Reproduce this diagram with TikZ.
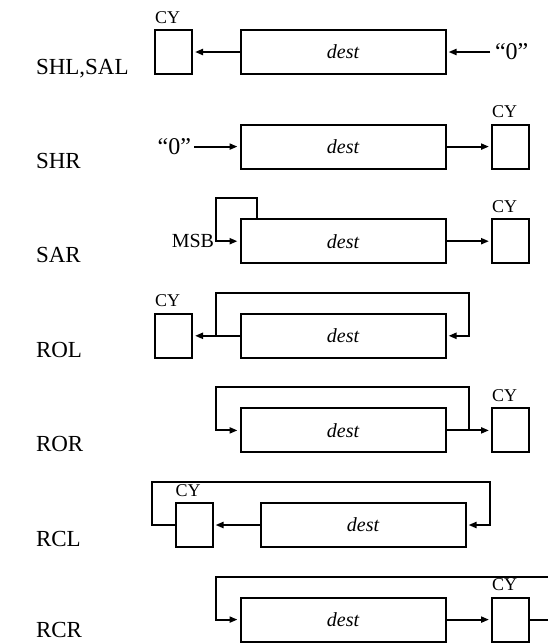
\documentclass[tikz,border=0pt]{standalone}
\usepackage{fontspec}
\setmainfont{Liberation Serif}
\usetikzlibrary{arrows.meta}
\begin{document}
\begin{tikzpicture}[x=1pt,y=-1pt,
  line width=2pt,
  reg/.style={draw, minimum width=205pt, minimum height=44pt, inner sep=0pt, outer sep=0pt,
    font=\fontsize{20}{20}\selectfont\itshape},
  cybox/.style={draw, minimum width=37pt, minimum height=44pt, inner sep=0pt, outer sep=0pt},
  cylabel/.style={anchor=base west, inner sep=0pt, font=\fontsize{18}{18}\selectfont},
  oplabel/.style={anchor=base west, inner sep=0pt, font=\fontsize{23}{23}\selectfont},
  zero/.style={inner sep=0pt, font=\fontsize{24}{24}\selectfont},
  flow/.style={-{Triangle[length=8pt,width=6pt]}, shorten >=3pt},
]
\clip (0,0) rectangle (548,643);

% ---- SHL, SAL
\node[oplabel] (l1) at (35,74) {SHL,SAL};
\node[cybox] (c1) at (173.5,52) {};
\node[cylabel] (t1) at ([xshift=-1pt,yshift=7pt]c1.north west) {CY};
\node[reg] (d1) at (343,52) {dest};
\node[zero, anchor=west] (q1) at (494,52) {“0”};
\draw[flow] (d1.west) -- (c1.east);
\draw[flow] ([xshift=-4pt]q1.west) -- (d1.east);

% ---- SHR
\node[oplabel] (l2) at (35,168) {SHR};
\node[zero, anchor=east] (q2) at (192,146.6) {“0”};
\node[reg] (d2) at (343,146.6) {dest};
\node[cybox] (c2) at (510.5,146.6) {};
\node[cylabel] (t2) at ([xshift=-1pt,yshift=7pt]c2.north west) {CY};
\draw[flow] ([xshift=2pt]q2.east) -- (d2.west);
\draw[flow] (d2.east) -- (c2.west);

% ---- SAR
\node[oplabel] (l3) at (35,262) {SAR};
\node[reg] (d3) at (343,241.2) {dest};
\node[cybox] (c3) at (510.5,241.2) {};
\node[cylabel] (t3) at ([xshift=-1pt,yshift=7pt]c3.north west) {CY};
\coordinate (k3) at (257,198);
\coordinate (j3) at (216,198);
\node[anchor=base east, inner sep=0pt, font=\fontsize{20}{20}\selectfont] (msb) at (215,247) {MSB};
\draw[flow] (d3.north -| k3) -- (k3) -- (j3) -- (j3 |- d3.west) -- (d3.west);
\draw[flow] (d3.east) -- (c3.west);

% ---- ROL
\node[oplabel] (l4) at (35,357) {ROL};
\node[cybox] (c4) at (173.5,335.8) {};
\node[cylabel] (t4) at ([xshift=-1pt,yshift=7pt]c4.north west) {CY};
\node[reg] (d4) at (343,335.8) {dest};
\coordinate (j4) at (216,292.5);
\coordinate (k4) at (469,292.5);
\draw[flow] (d4.west) -- (c4.east);
\draw[flow] (j4 |- d4.west) -- (j4) -- (k4) -- (k4 |- d4.east) -- (d4.east);

% ---- ROR
\node[oplabel] (l5) at (35,451) {ROR};
\node[reg] (d5) at (343,430.4) {dest};
\node[cybox] (c5) at (510.5,430.4) {};
\node[cylabel] (t5) at ([xshift=-1pt,yshift=7pt]c5.north west) {CY};
\coordinate (j5) at (216,387);
\coordinate (k5) at (469,387);
\draw[flow] (d5.east) -- (c5.west);
\draw[flow] (k5 |- d5.east) -- (k5) -- (j5) -- (j5 |- d5.west) -- (d5.west);

% ---- RCL
\node[oplabel] (l6) at (35,546) {RCL};
\node[cybox] (c6) at (194,525) {};
\node[cylabel] (t6) at ([xshift=-1pt,yshift=7pt]c6.north west) {CY};
\node[reg] (d6) at (363,525) {dest};
\coordinate (j6) at (152,482);
\coordinate (k6) at (490,482);
\draw[flow] (d6.west) -- (c6.east);
\draw[flow] (c6.west) -- (j6 |- c6.west) -- (j6) -- (k6) -- (k6 |- d6.east) -- (d6.east);

% ---- RCR
\node[oplabel] (l7) at (35,637) {RCR};
\node[reg] (d7) at (343,619.6) {dest};
\node[cybox] (c7) at (510.5,619.6) {};
\node[cylabel] (t7) at ([xshift=-1pt,yshift=7pt]c7.north west) {CY};
\coordinate (j7) at (216,577);
\coordinate (k7) at (560,577);
\draw[flow] (d7.east) -- (c7.west);
\draw[flow] (c7.east) -- (k7 |- c7.east) -- (k7) -- (j7) -- (j7 |- d7.west) -- (d7.west);
\end{tikzpicture}
\end{document}
